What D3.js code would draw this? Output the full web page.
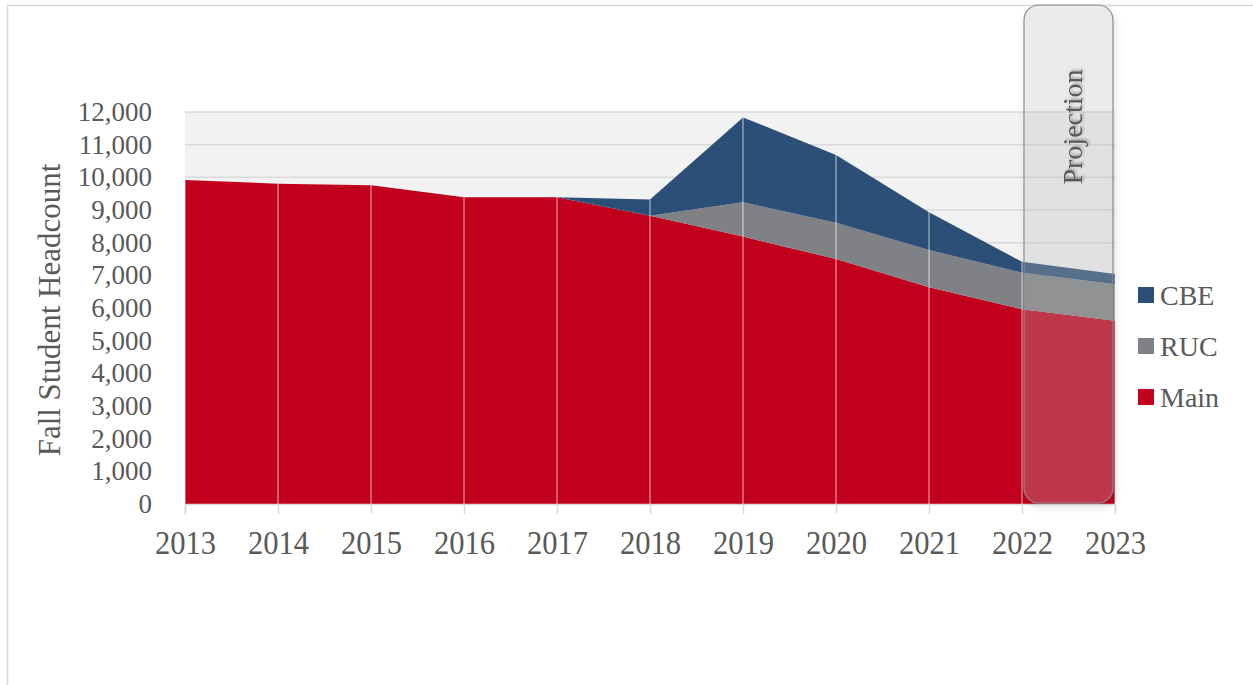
<!DOCTYPE html>
<html>
<head>
<meta charset="utf-8">
<script src="https://cdn.jsdelivr.net/npm/d3@7"></script>
<style>
  body { margin: 0; background: #fff; }
  text { font-family: "Liberation Serif", "Times New Roman", serif; fill: #595959; }
</style>
</head>
<body>
<svg id="chart" width="1253" height="685"></svg>
<script>
// data
var years = [2013, 2014, 2015, 2016, 2017, 2018, 2019, 2020, 2021, 2022, 2023];
var mainVals = [9920, 9805, 9755, 9390, 9390, 8825, 8185, 7500, 6635, 5960, 5610];
var rucVals  = [0, 0, 0, 0, 0, 0, 1050, 1110, 1140, 1120, 1115];
var cbeVals  = [0, 0, 0, 0, 0, 500, 2600, 2075, 1155, 335, 315];
var seriesNames = ["Main", "RUC", "CBE"];
var seriesColors = {"Main": "#c0001c", "RUC": "#808184", "CBE": "#2c4f78"};
var yTicks = [0, 1000, 2000, 3000, 4000, 5000, 6000, 7000, 8000, 9000, 10000, 11000, 12000];
var projectionFrom = 2022;

var svg = d3.select("#chart");

var plotLeft = 185, plotRight = 1115, plotTop = 112, plotBottom = 504;

var x = d3.scaleLinear().domain([2013, 2023]).range([plotLeft, plotRight]);
var y = d3.scaleLinear().domain([0, 12000]).range([plotBottom, plotTop]);

// outer frame (only top and left edges visible)
svg.append("path")
  .attr("d", "M7.5,685 L7.5,5.5 L1253,5.5")
  .attr("fill", "none")
  .attr("stroke", "#d9d9d9")
  .attr("stroke-width", 1.5);

// defs: shadows
var defs = svg.append("defs");
var sh = defs.append("filter").attr("id", "boxShadow")
  .attr("x", "-20%").attr("y", "-5%").attr("width", "150%").attr("height", "115%");
sh.append("feDropShadow").attr("dx", 2).attr("dy", 4).attr("stdDeviation", 3)
  .attr("flood-color", "#000").attr("flood-opacity", 0.25);
var tsh = defs.append("filter").attr("id", "textShadow")
  .attr("x", "-20%").attr("y", "-20%").attr("width", "150%").attr("height", "150%");
tsh.append("feDropShadow").attr("dx", 1.5).attr("dy", 1.5).attr("stdDeviation", 1.2)
  .attr("flood-color", "#000").attr("flood-opacity", 0.3);

// plot background
svg.append("rect")
  .attr("x", plotLeft).attr("y", plotTop)
  .attr("width", plotRight - plotLeft).attr("height", plotBottom - plotTop)
  .attr("fill", "#f2f2f2");

// horizontal grid
svg.append("g").selectAll("line")
  .data(yTicks.filter(function(d) { return d > 0; }))
  .join("line")
  .attr("x1", plotLeft).attr("x2", plotRight)
  .attr("y1", function(d) { return y(d); })
  .attr("y2", function(d) { return y(d); })
  .attr("stroke", "#d9d9d9")
  .attr("stroke-width", 1.5);

// stacked areas
var rows = years.map(function(yr, i) {
  return { year: yr, Main: mainVals[i], RUC: rucVals[i], CBE: cbeVals[i] };
});
var stack = d3.stack().keys(seriesNames);
var layers = stack(rows);

var area = d3.area()
  .x(function(d) { return x(d.data.year); })
  .y0(function(d) { return y(d[0]); })
  .y1(function(d) { return y(d[1]); });

svg.append("g").selectAll("path")
  .data(layers)
  .join("path")
  .attr("d", area)
  .attr("fill", function(d) { return seriesColors[d.key]; });

// vertical lines over the areas
svg.append("g").selectAll("line")
  .data(rows)
  .join("line")
  .attr("x1", function(d) { return x(d.year); })
  .attr("x2", function(d) { return x(d.year); })
  .attr("y1", function(d) { return y(d.Main + d.RUC + d.CBE); })
  .attr("y2", plotBottom)
  .attr("stroke", "rgba(255,255,255,0.35)")
  .attr("stroke-width", 2);

// x axis
var xAxis = d3.axisBottom(x)
  .tickValues(years)
  .tickFormat(d3.format("d"))
  .tickSize(10)
  .tickPadding(16);
var gx = svg.append("g").attr("transform", "translate(0," + plotBottom + ")").call(xAxis);
gx.select(".domain").attr("stroke", "#d9d9d9").attr("stroke-width", 1.5);
gx.selectAll(".tick line").attr("stroke", "#d9d9d9").attr("stroke-width", 1.5);
gx.selectAll(".tick text")
  .attr("font-size", 34)
  .attr("fill", "#595959")
  .attr("font-family", "Liberation Serif")
  .attr("transform", "scale(0.9,1)");

// y axis
var yAxis = d3.axisLeft(y)
  .tickValues(yTicks)
  .tickFormat(d3.format(","))
  .tickSize(0)
  .tickPadding(33);
var gy = svg.append("g").attr("transform", "translate(" + plotLeft + ",0)").call(yAxis);
gy.select(".domain").remove();
gy.selectAll(".tick text")
  .attr("font-size", 27)
  .attr("fill", "#595959")
  .attr("font-family", "Liberation Serif");

// y title
svg.append("text")
  .attr("transform", "translate(60,310) rotate(-90)")
  .attr("text-anchor", "middle")
  .attr("font-size", 31)
  .text("Fall Student Headcount");

// projection box
var bx = x(projectionFrom) + 2;
svg.append("rect")
  .attr("x", bx).attr("y", 5)
  .attr("width", plotRight - 2 - bx).attr("height", 498)
  .attr("rx", 15).attr("ry", 15)
  .attr("fill", "rgba(200,200,200,0.25)")
  .attr("stroke", "#8c8c8c")
  .attr("stroke-width", 1.2)
  .attr("filter", "url(#boxShadow)");

svg.append("text")
  .attr("transform", "translate(1082,127) rotate(-90)")
  .attr("text-anchor", "middle")
  .attr("font-size", 28)
  .attr("fill", "#6d6d6d")
  .attr("filter", "url(#textShadow)")
  .text("Projection");

// legend
var legendOrder = ["CBE", "RUC", "Main"];
var lg = svg.append("g").selectAll("g")
  .data(legendOrder)
  .join("g")
  .attr("transform", function(d, i) { return "translate(1138," + (295 + i * 51) + ")"; });
lg.append("rect")
  .attr("x", 0).attr("y", -8)
  .attr("width", 16).attr("height", 16)
  .attr("fill", function(d) { return seriesColors[d]; });
lg.append("text")
  .attr("x", 22).attr("y", 10)
  .attr("font-size", 28)
  .text(function(d) { return d; });
</script>
</body>
</html>
